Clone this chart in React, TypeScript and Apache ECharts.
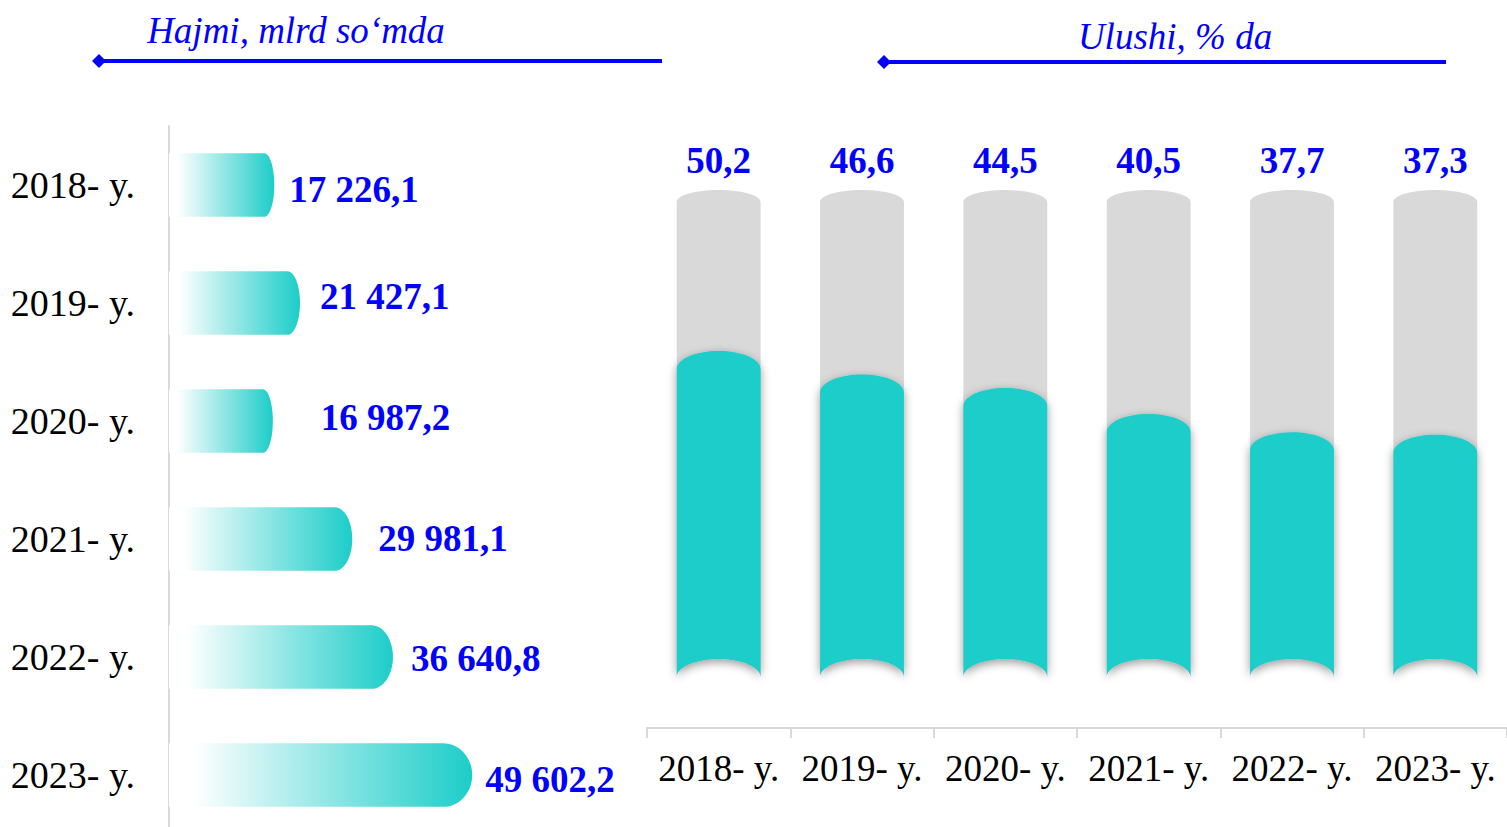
import React, { useEffect, useRef } from "react";
import * as echarts from "echarts";

const years = ["2018- y.", "2019- y.", "2020- y.", "2021- y.", "2022- y.", "2023- y."];
const volume = [17226.1, 21427.1, 16987.2, 29981.1, 36640.8, 49602.2];
const share = [50.2, 46.6, 44.5, 40.5, 37.7, 37.3];
const shareMax = 75;
const volumeMax = 80000;
const leftTitle = "Hajmi, mlrd so‘mda";
const rightTitle = "Ulushi, % da";
// label nudges in px (style only): [dx from bar end, dy]
const volumeLabelShift = [
  [15, 4],
  [20, -7],
  [48, -4],
  [26, -1],
  [18, 1],
  [13, 4],
];

const BLUE = "#0000ff";
const TEAL = "#1ccdc9";
const GRAY = "#d9d9d9";
const FONT = '"Liberation Serif", "Times New Roman", serif';
const K = 0.5523;

function fmtVolume(v: number) {
  const [i, d] = v.toFixed(1).split(".");
  return i.replace(/\B(?=(\d{3})+(?!\d))/g, " ") + "," + d;
}
function fmtShare(v: number) {
  return v.toFixed(1).replace(".", ",");
}

export default function App() {
  const ref = useRef<HTMLDivElement>(null);
  useEffect(() => {
    if (!ref.current) return;
    const chart = echarts.init(ref.current, null, { renderer: "svg" });

    const leftRender = (params: any, api: any) => {
      const idx = api.value(0);
      const val = api.value(1);
      const start = api.coord([0, idx]);
      const end = api.coord([val, idx]);
      const h = api.size([0, 1])[1] * 0.54;
      const x0 = start[0];
      const x1 = end[0];
      const yc = start[1];
      const t = yc - h / 2;
      const b = yc + h / 2;
      const len = x1 - x0;
      const rx = Math.min(len * 0.095, h / 2);
      const ry = h / 2;
      const d =
        `M${x0},${t} L${x1 - rx},${t} ` +
        `C${x1 - rx + K * rx},${t} ${x1},${yc - K * ry} ${x1},${yc} ` +
        `C${x1},${yc + K * ry} ${x1 - rx + K * rx},${b} ${x1 - rx},${b} ` +
        `L${x0},${b} Z`;
      const shift = volumeLabelShift[idx] || [16, 0];
      return {
        type: "group",
        children: [
          {
            type: "path",
            shape: { pathData: d },
            style: {
              fill: {
                type: "linear",
                x: 0,
                y: 0,
                x2: 1,
                y2: 0,
                colorStops: [
                  { offset: 0, color: "#ffffff" },
                  { offset: 0.08, color: "#ffffff" },
                  { offset: 1, color: TEAL },
                ],
              },
            },
          },
          {
            type: "text",
            x: x1 + shift[0],
            y: yc + shift[1],
            style: {
              text: fmtVolume(val),
              font: `bold 37px ${FONT}`,
              fill: BLUE,
              align: "left",
              verticalAlign: "middle",
            },
          },
        ],
      };
    };

    const rightRender = (params: any, api: any) => {
      const i = api.value(0);
      const v = api.value(1);
      const base = api.coord([i, 0]);
      const topP = api.coord([i, v]);
      const bgP = api.coord([i, shareMax]);
      const w = api.size([1, 0])[0] * 0.585;
      const xc = base[0];
      const L = xc - w / 2;
      const R = xc + w / 2;
      const rx = w / 2;
      const b = base[1];
      const shape = (top: number, ry: number, rb: number) =>
        `M${L},${top + ry} ` +
        `C${L},${top + ry - K * ry} ${xc - K * rx},${top} ${xc},${top} ` +
        `C${xc + K * rx},${top} ${R},${top + ry - K * ry} ${R},${top + ry} ` +
        `L${R},${b} ` +
        `C${R},${b - K * rb} ${xc + K * rx},${b - rb} ${xc},${b - rb} ` +
        `C${xc - K * rx},${b - rb} ${L},${b - K * rb} ${L},${b} Z`;
      return {
        type: "group",
        children: [
          {
            type: "path",
            shape: { pathData: shape(bgP[1], 12, 18) },
            style: { fill: GRAY },
          },
          {
            type: "path",
            shape: { pathData: shape(topP[1], 18, 18) },
            style: {
              fill: TEAL,
              shadowBlur: 10,
              shadowColor: "rgba(0,0,0,0.4)",
              shadowOffsetY: 3,
            },
          },
          {
            type: "text",
            x: xc,
            y: bgP[1] - 30,
            style: {
              text: fmtShare(v),
              font: `bold 37px ${FONT}`,
              fill: BLUE,
              align: "center",
              verticalAlign: "middle",
            },
          },
        ],
      };
    };

    const option: any = {
      animation: false,
      backgroundColor: "#ffffff",
      grid: [
        { left: 169, top: 126, width: 489, height: 708 },
        { left: 647, top: 190, width: 862, height: 487 },
      ],
      xAxis: [
        { type: "value", gridIndex: 0, min: 0, max: volumeMax, show: false },
        {
          type: "category",
          gridIndex: 1,
          data: years,
          offset: 51,
          axisLine: { show: true, onZero: false, lineStyle: { color: GRAY, width: 2 } },
          axisTick: { show: true, interval: 0, length: 10, lineStyle: { color: GRAY, width: 2 } },
          axisLabel: { interval: 0, color: "#000", fontSize: 37, fontFamily: FONT, margin: 22 },
        },
      ],
      yAxis: [
        {
          type: "category",
          gridIndex: 0,
          data: years,
          inverse: true,
          axisLine: { show: true, onZero: false, lineStyle: { color: GRAY, width: 2 } },
          axisTick: { show: false },
          axisLabel: { interval: 0, color: "#000", fontSize: 38, fontFamily: FONT, margin: 34 },
        },
        { type: "value", gridIndex: 1, min: 0, max: shareMax, show: false },
      ],
      series: [
        {
          type: "custom",
          xAxisIndex: 0,
          yAxisIndex: 0,
          renderItem: leftRender,
          encode: { x: 1, y: 0 },
          data: volume.map((v, i) => [i, v]),
        },
        {
          type: "custom",
          xAxisIndex: 1,
          yAxisIndex: 1,
          renderItem: rightRender,
          encode: { x: 0, y: 1 },
          data: share.map((v, i) => [i, v]),
        },
      ],
      graphic: [
        {
          type: "text",
          x: 296,
          y: 30,
          style: {
            text: leftTitle,
            font: `italic 37px ${FONT}`,
            fill: BLUE,
            align: "center",
            verticalAlign: "middle",
          },
        },
        {
          type: "line",
          shape: { x1: 99, y1: 61, x2: 662, y2: 61 },
          style: { stroke: BLUE, lineWidth: 4 },
        },
        {
          type: "polygon",
          shape: { points: [[92, 61], [99, 54], [106, 61], [99, 68]] },
          style: { fill: BLUE },
        },
        {
          type: "text",
          x: 1175,
          y: 36,
          style: {
            text: rightTitle,
            font: `italic 37px ${FONT}`,
            fill: BLUE,
            align: "center",
            verticalAlign: "middle",
          },
        },
        {
          type: "line",
          shape: { x1: 884, y1: 62, x2: 1446, y2: 62 },
          style: { stroke: BLUE, lineWidth: 4 },
        },
        {
          type: "polygon",
          shape: { points: [[877, 62], [884, 55], [891, 62], [884, 69]] },
          style: { fill: BLUE },
        },
      ],
    };
    chart.setOption(option);
    return () => chart.dispose();
  }, []);
  return (
    <div
      style={{
        position: "absolute",
        left: 0,
        top: 0,
        width: 1507,
        height: 827,
        overflow: "hidden",
      }}
    >
      <div ref={ref} style={{ width: 1507, height: 840 }} />
    </div>
  );
}
